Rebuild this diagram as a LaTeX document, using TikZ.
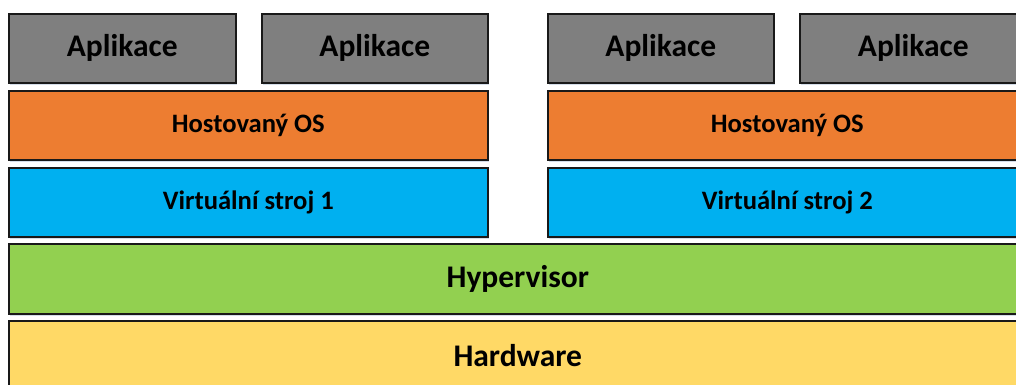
\documentclass[tikz,border=0pt]{standalone}
\usepackage{fontspec}
\usetikzlibrary{shadows}
\setmainfont{Carlito}
\definecolor{appgray}{HTML}{7F7F7F}
\definecolor{osorange}{HTML}{ED7D31}
\definecolor{vmblue}{HTML}{00B0F0}
\definecolor{hypgreen}{HTML}{92D050}
\definecolor{hwyellow}{HTML}{FFD966}
\definecolor{shadowc}{HTML}{D5DEEA}
\begin{document}
\begin{tikzpicture}[x=1pt,y=-1pt,
  layer/.style={draw=black!90, line width=1.6pt, anchor=north west, inner sep=0pt,
    text=black,
    drop shadow={shadow xshift=0.8pt, shadow yshift=-2.5pt, fill=shadowc, opacity=1}},
  appfont/.style={font=\bfseries\fontsize{31.5}{33}\selectfont},
  osfont/.style={font=\bfseries\fontsize{26.6}{28}\selectfont},
  basefont/.style={font=\bfseries\fontsize{31.5}{33}\selectfont},
  box/.style n args={3}{layer, fill=#1, minimum width=#2pt, minimum height=#3pt}
]
\useasboundingbox[fill=white] (0,0) rectangle (1016,385);
\node[box={appgray}{227}{69}, appfont] (app1) at (8,13) {Aplikace};
\node[box={appgray}{226}{69}, appfont] (app2) at (261,13) {Aplikace};
\node[box={appgray}{226}{69}, appfont] (app3) at (547,13) {Aplikace};
\node[box={appgray}{227}{69}, appfont] (app4) at (799,13) {Aplikace};
\node[box={osorange}{479}{69}, osfont] (os1) at (8,90) {Hostovaný OS};
\node[box={osorange}{479}{69}, osfont] (os2) at (547,90) {Hostovaný OS};
\node[box={vmblue}{479}{69}, osfont] (vm1) at (8,167) {Virtuální stroj 1};
\node[box={vmblue}{479}{69}, osfont] (vm2) at (547,167) {Virtuální stroj 2};
\node[box={hypgreen}{1018}{70}, basefont] (hyp) at (8,243) {Hypervisor};
\node[box={hwyellow}{1018}{70}, basefont] (hw) at (8,320) {Hardware};
\end{tikzpicture}
\end{document}
